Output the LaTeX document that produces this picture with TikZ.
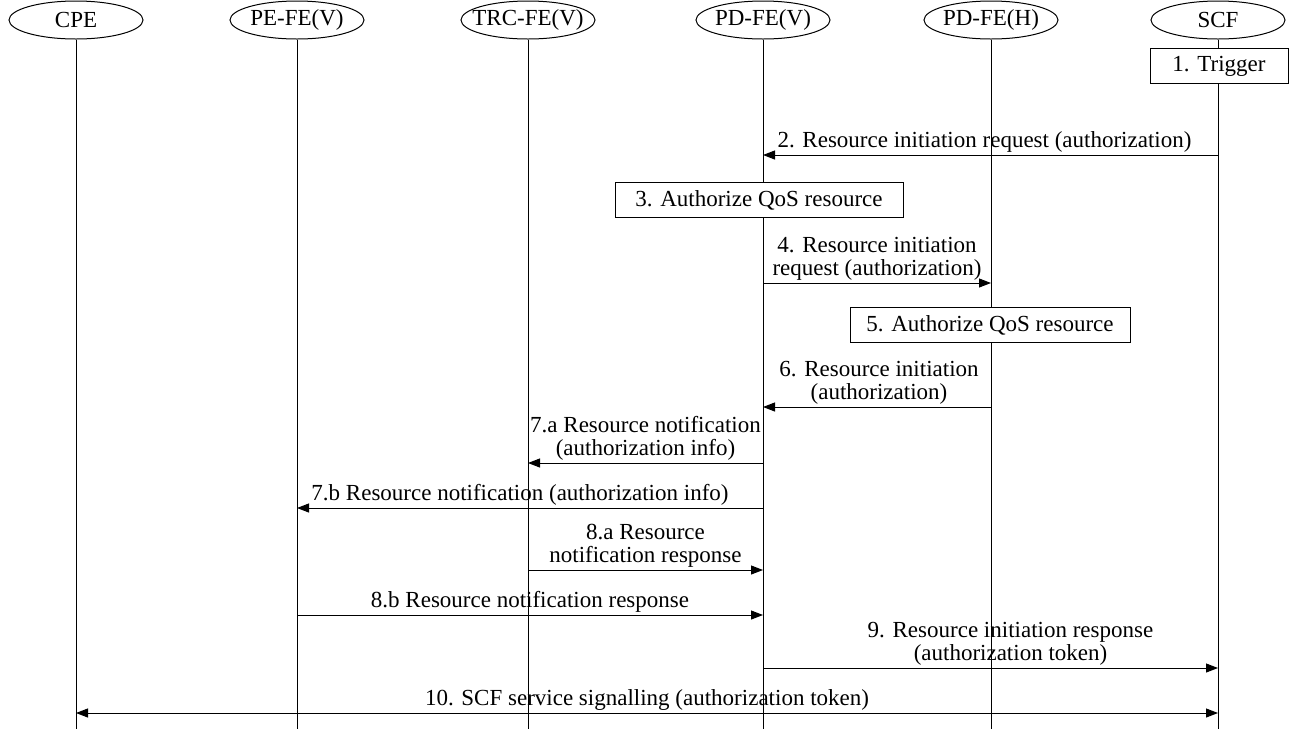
\documentclass[tikz,border=0pt]{standalone}
\usepackage{fontspec}
\setmainfont{Liberation Serif}
\usetikzlibrary{arrows.meta,shapes.geometric}
% participant names are set without width so every ellipse keeps the same size
\newcommand{\zerowidthname}[1]{\makebox[0pt]{#1}}
\begin{document}
\begin{tikzpicture}[x=0.5pt,y=-0.5pt,
  line width=0.5pt,
  font=\fontsize{11.5}{11.5}\selectfont,
  actor/.style={draw,ellipse,minimum width=67pt,minimum height=19pt,inner sep=0pt},
  lifeline/.style={draw},
  actionbox/.style={draw,fill=white,minimum height=17.5pt,inner sep=0pt},
  msg/.style={-{Triangle[length=6pt,width=4.5pt]}},
  both/.style={{Triangle[length=6pt,width=4.5pt]}-{Triangle[length=6pt,width=4.5pt]}},
  lbl/.style={above,align=center,inner sep=1pt}]
\useasboundingbox (0,0) rectangle (1292,729);

% participants
\node[actor] (cpe) at (76,20)   {\zerowidthname{CPE}};
\node[actor] (pev) at (297,20)  {\zerowidthname{PE-FE(V)}};
\node[actor] (trc) at (528,20)  {\zerowidthname{TRC-FE(V)}};
\node[actor] (pdv) at (763,20)  {\zerowidthname{PD-FE(V)}};
\node[actor] (pdh) at (991,20)  {\zerowidthname{PD-FE(H)}};
\node[actor] (scf) at (1218,20) {\zerowidthname{SCF}};

% lifelines
\foreach \p in {cpe,pev,trc,pdv,pdh,scf}
  \draw[lifeline] (\p.south) -- (\p |- 0,729);

% local actions
\node[actionbox,minimum width=69pt] (trig) at (1219,66) {1. Trigger};
\node[actionbox,minimum width=144pt] (auth3) at (759,200) {3. Authorize QoS resource};
\node[actionbox,minimum width=140pt] (auth5) at (990,325) {5. Authorize QoS resource};

% messages
\draw[msg] (scf |- 0,155) -- node[lbl,xshift=-3pt] {2. Resource initiation request (authorization)} (pdv |- 0,155);
\draw[msg] (pdv |- 0,283) -- node[lbl] {4. Resource initiation\\request (authorization)} (pdh |- 0,283);
\draw[msg] (pdh |- 0,407) -- node[lbl,xshift=1pt] {6. Resource initiation\\(authorization)} (pdv |- 0,407);
\draw[msg] (pdv |- 0,463) -- node[lbl] {7.a Resource notification\\(authorization info)} (trc |- 0,463);
\draw[msg] (pdv |- 0,508) -- node[lbl,xshift=-5pt] {7.b Resource notification (authorization info)} (pev |- 0,508);
\draw[msg] (trc |- 0,570) -- node[lbl] {8.a Resource\\notification response} (pdv |- 0,570);
\draw[msg] (pev |- 0,615) -- node[lbl] {8.b Resource notification response} (pdv |- 0,615);
\draw[msg] (pdv |- 0,668) -- node[lbl,xshift=10pt] {9. Resource initiation response\\(authorization token)} (scf |- 0,668);
\draw[both] (cpe |- 0,713) -- node[lbl] {10. SCF service signalling (authorization token)} (scf |- 0,713);
\end{tikzpicture}
\end{document}
